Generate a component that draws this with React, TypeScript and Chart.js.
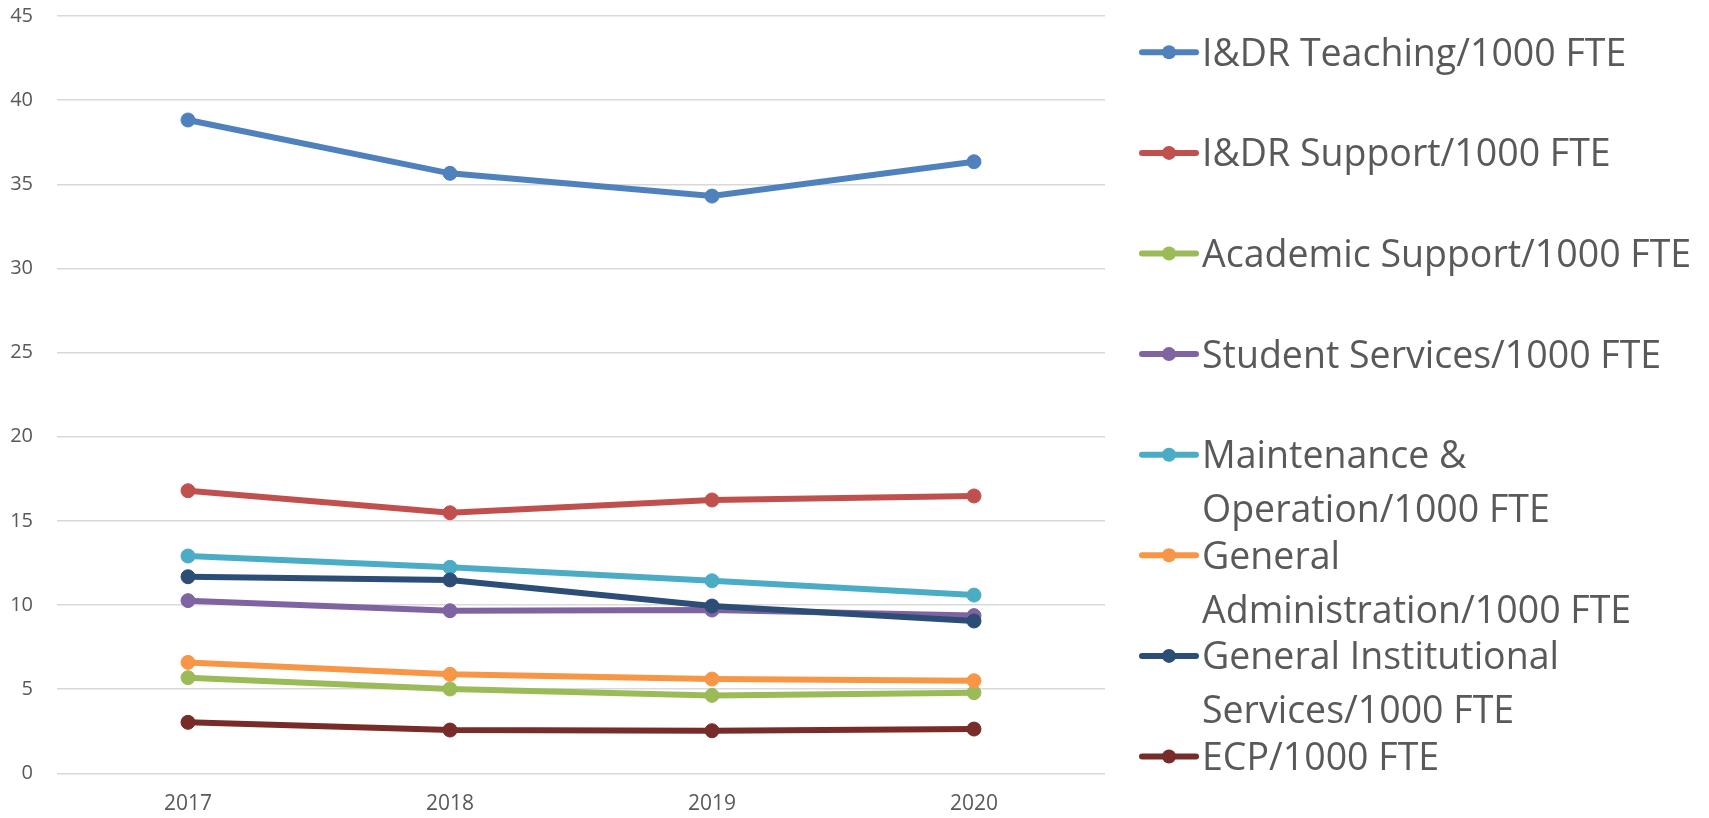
import React, { useEffect, useRef } from "react";
import { Chart, registerables } from "chart.js";

Chart.register(...registerables);

// ---------- data ----------
const years = ["2017", "2018", "2019", "2020"];

const seriesNames = [
  "I&DR Teaching/1000 FTE",
  "I&DR Support/1000 FTE",
  "Academic Support/1000 FTE",
  "Student Services/1000 FTE",
  "Maintenance & Operation/1000 FTE",
  "General Administration/1000 FTE",
  "General Institutional Services/1000 FTE",
  "ECP/1000 FTE",
];

const teaching = [38.82, 35.65, 34.3, 36.34];
const idrSupport = [16.79, 15.48, 16.24, 16.48];
const academicSupport = [5.68, 5.01, 4.63, 4.79];
const studentServices = [10.26, 9.66, 9.7, 9.37];
const maintenance = [12.91, 12.24, 11.44, 10.59];
const generalAdmin = [6.59, 5.88, 5.6, 5.5];
const generalInstitutional = [11.68, 11.49, 9.94, 9.05];
const ecp = [3.03, 2.57, 2.53, 2.63];

const seriesValues = [
  teaching,
  idrSupport,
  academicSupport,
  studentServices,
  maintenance,
  generalAdmin,
  generalInstitutional,
  ecp,
];

const seriesColors = [
  "#4F81BD",
  "#C0504D",
  "#9BBB59",
  "#8064A2",
  "#4BACC6",
  "#F79646",
  "#2C4D75",
  "#772C2A",
];

const yMin = 0;
const yMax = 45;
const yStep = 5;

// ---------- styling ----------
const FONT = "'Open Sans', 'Noto Sans', sans-serif";
const TEXT_COLOR = "#595959";
const GRID_COLOR = "#d9d9d9";

const LEGEND_FONT_SIZE = 37.5;
const LEGEND_FIRST_Y = 52.3;
const LEGEND_SLOT = 100.6;
const LEGEND_LINE_H = 54;
const LEGEND_MARK_X0 = 1142;
const LEGEND_MARK_X1 = 1196;
const LEGEND_TEXT_X = 1202;
const LEGEND_MAX_W = 505;

function wrapText(ctx: CanvasRenderingContext2D, text: string, maxW: number): string[] {
  const words = text.split(" ");
  const lines: string[] = [];
  let cur = "";
  for (const w of words) {
    const test = cur ? cur + " " + w : w;
    if (cur && ctx.measureText(test).width > maxW) {
      lines.push(cur);
      cur = w;
    } else {
      cur = test;
    }
  }
  if (cur) lines.push(cur);
  return lines;
}

const sideLegend = {
  id: "sideLegend",
  afterDraw(chart: any) {
    const ctx: CanvasRenderingContext2D = chart.ctx;
    ctx.save();
    ctx.font = `${LEGEND_FONT_SIZE}px ${FONT}`;
    ctx.textBaseline = "alphabetic";
    ctx.textAlign = "left";
    chart.data.datasets.forEach((ds: any, i: number) => {
      const y = LEGEND_FIRST_Y + i * LEGEND_SLOT;
      ctx.strokeStyle = ds.borderColor;
      ctx.lineWidth = 6;
      ctx.lineCap = "round";
      ctx.beginPath();
      ctx.moveTo(LEGEND_MARK_X0, y);
      ctx.lineTo(LEGEND_MARK_X1, y);
      ctx.stroke();
      ctx.fillStyle = ds.borderColor;
      ctx.beginPath();
      ctx.arc((LEGEND_MARK_X0 + LEGEND_MARK_X1) / 2, y, 7, 0, Math.PI * 2);
      ctx.fill();
      ctx.fillStyle = TEXT_COLOR;
      const lines = wrapText(ctx, ds.label, LEGEND_MAX_W);
      lines.forEach((ln, j) => {
        ctx.fillText(ln, LEGEND_TEXT_X, y + 13.4 + j * LEGEND_LINE_H);
      });
    });
    ctx.restore();
  },
};

export default function App() {
  const canvasRef = useRef<HTMLCanvasElement | null>(null);

  useEffect(() => {
    if (!canvasRef.current) return;
    Chart.defaults.font.family = FONT;
    const n = seriesNames.length;
    const chart = new Chart(canvasRef.current, {
      type: "line",
      data: {
        labels: years,
        datasets: seriesNames.map((name, i) => ({
          label: name,
          data: seriesValues[i],
          borderColor: seriesColors[i],
          backgroundColor: seriesColors[i],
          pointBackgroundColor: seriesColors[i],
          pointBorderColor: seriesColors[i],
          borderWidth: 6,
          pointRadius: 7,
          pointBorderWidth: 1,
          tension: 0,
          fill: false,
          order: n - i,
        })),
      },
      options: {
        responsive: false,
        animation: false,
        events: [],
        layout: {
          padding: { left: 10, right: 604, top: 16, bottom: 1.5 },
        },
        plugins: {
          legend: { display: false },
          tooltip: { enabled: false },
          title: { display: false },
        },
        scales: {
          x: {
            offset: true,
            grid: { display: false, drawTicks: false },
            border: { display: false },
            ticks: {
              color: TEXT_COLOR,
              font: { size: 21, family: FONT },
              padding: 18,
              maxRotation: 0,
            },
            afterFit: (scale: any) => {
              scale.height = 43.2;
            },
          },
          y: {
            min: yMin,
            max: yMax,
            grid: {
              color: GRID_COLOR,
              lineWidth: 1.5,
              drawTicks: false,
            },
            border: { display: false },
            ticks: {
              stepSize: yStep,
              color: TEXT_COLOR,
              font: { size: 20, family: FONT },
              padding: 24,
            },
            afterFit: (scale: any) => {
              scale.width = 47;
              scale.paddingTop = 0;
              scale.paddingBottom = 0;
            },
          },
        },
      },
      plugins: [sideLegend],
    });
    return () => chart.destroy();
  }, []);

  return (
    <div style={{ position: "absolute", left: 0, top: 0, width: 1709, height: 818, background: "#fff" }}>
      <canvas ref={canvasRef} width={1709} height={818} style={{ display: "block" }} />
    </div>
  );
}
